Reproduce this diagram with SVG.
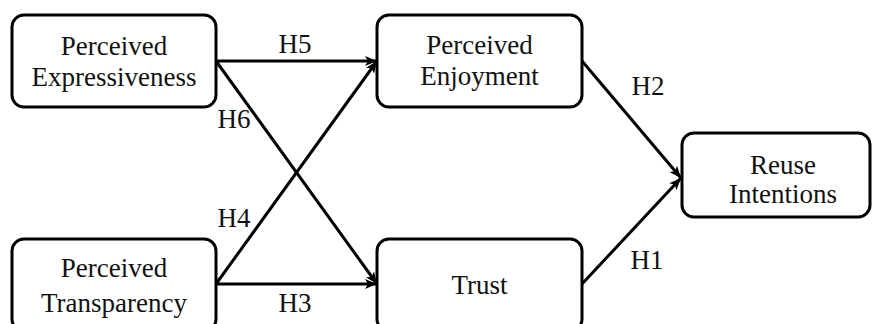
<svg xmlns="http://www.w3.org/2000/svg" width="872" height="324" viewBox="0 0 872 324">
<style>
.box{fill:#fff;stroke:#000;stroke-width:3}
.t{font-family:"Liberation Serif","Times New Roman",serif;font-size:27px;fill:#111;text-anchor:middle}
.e{stroke:#000;stroke-width:3;fill:none;marker-end:url(#ah)}
</style>
<defs>
<marker id="ah" markerUnits="userSpaceOnUse" markerWidth="14" markerHeight="12" refX="12" refY="5" orient="auto">
<path d="M0,0 L12,5 L0,10 L3,5 z" fill="#000"/>
</marker>
</defs>
<g id="connectors">
<line class="e" x1="216" y1="61" x2="377" y2="61"/>
<line class="e" x1="216" y1="61" x2="377" y2="284"/>
<line class="e" x1="216" y1="284" x2="377" y2="61"/>
<line class="e" x1="216" y1="284" x2="377" y2="284"/>
<line class="e" x1="582" y1="61" x2="681" y2="178"/>
<line class="e" x1="582" y1="284" x2="681" y2="178"/>
<text class="t" x="295" y="53">H5</text>
<text class="t" x="234" y="128">H6</text>
<text class="t" x="234" y="227">H4</text>
<text class="t" x="295" y="312">H3</text>
<text class="t" x="648" y="95">H2</text>
<text class="t" x="647" y="269">H1</text>
</g>
<g id="perceived-expressiveness">
<rect class="box" x="12" y="15" width="204" height="92" rx="12"/>
<text class="t" x="114" y="55">Perceived</text>
<text class="t" x="114" y="86">Expressiveness</text>
</g>
<g id="perceived-transparency">
<rect class="box" x="12" y="239" width="204" height="92" rx="12"/>
<text class="t" x="114" y="277">Perceived</text>
<text class="t" x="114" y="312">Transparency</text>
</g>
<g id="perceived-enjoyment">
<rect class="box" x="377" y="15" width="205" height="92" rx="12"/>
<text class="t" x="479.5" y="54">Perceived</text>
<text class="t" x="479.5" y="85">Enjoyment</text>
</g>
<g id="trust">
<rect class="box" x="377" y="239" width="205" height="92" rx="12"/>
<text class="t" x="479.5" y="294">Trust</text>
</g>
<g id="reuse-intentions">
<rect class="box" x="682" y="133" width="188" height="84" rx="12"/>
<text class="t" x="783" y="174">Reuse</text>
<text class="t" x="783" y="203">Intentions</text>
</g>
</svg>
